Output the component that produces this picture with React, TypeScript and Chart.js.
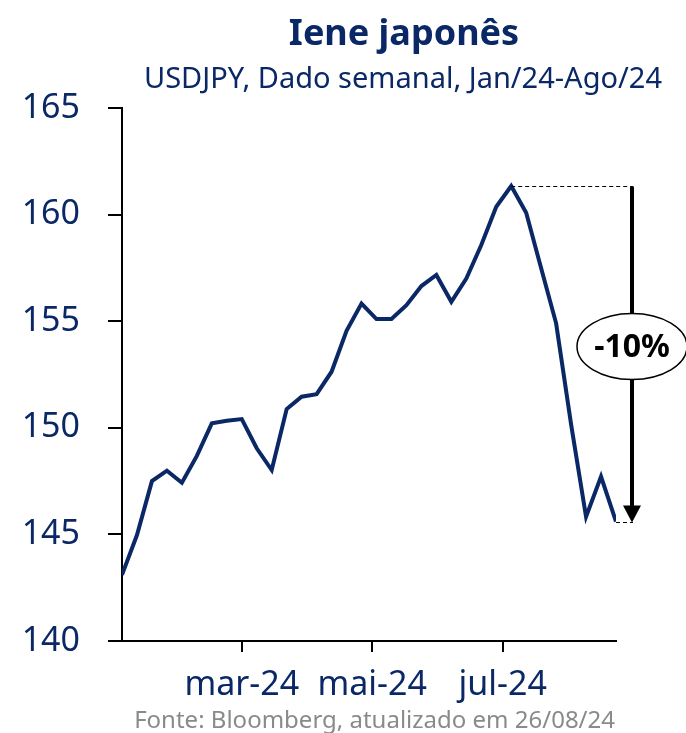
import React, { useEffect, useRef } from "react";
import { Chart, registerables } from "chart.js";

Chart.register(...registerables);

const TITLE = "Iene japonês";
const SUBTITLE = "USDJPY, Dado semanal, Jan/24-Ago/24";
const SOURCE = "Fonte: Bloomberg, atualizado em 26/08/24";

const weekDates = [
  "2024-01-05", "2024-01-12", "2024-01-19", "2024-01-26",
  "2024-02-02", "2024-02-09", "2024-02-16", "2024-02-23",
  "2024-03-01", "2024-03-08", "2024-03-15", "2024-03-22", "2024-03-29",
  "2024-04-05", "2024-04-12", "2024-04-19", "2024-04-26",
  "2024-05-03", "2024-05-10", "2024-05-17", "2024-05-24", "2024-05-31",
  "2024-06-07", "2024-06-14", "2024-06-21", "2024-06-28",
  "2024-07-05", "2024-07-12", "2024-07-19", "2024-07-26",
  "2024-08-02", "2024-08-09", "2024-08-16", "2024-08-23",
];

const usdjpy = [
  143.10, 144.97, 147.50, 147.99, 147.42, 148.68, 150.21, 150.33,
  150.41, 149.04, 148.02, 150.88, 151.46, 151.58, 152.63, 154.55,
  155.83, 155.10, 155.10, 155.75, 156.65, 157.17, 155.91, 157.00,
  158.57, 160.37, 161.34, 160.09, 157.48, 154.90, 150.16, 145.83,
  147.71, 145.60,
];

const xTickDates = ["2024-03-01", "2024-05-01", "2024-07-01"];
const xTickLabels = ["mar-24", "mai-24", "jul-24"];

const yMin = 140;
const yMax = 165;
const yStep = 5;

const NAVY = "#0a2866";
const FONT = "'Noto Sans', sans-serif";

const dayMs = 24 * 3600 * 1000;
const t0 = Date.parse(weekDates[0] + "T00:00:00Z");
const toDay = (d: string) => (Date.parse(d + "T00:00:00Z") - t0) / dayMs;

const annotationPlugin = {
  id: "annot",
  afterDatasetsDraw(chart: any) {
    const { ctx, chartArea, scales } = chart;
    const xs = scales.x;
    const ys = scales.y;
    let peakIdx = 0;
    usdjpy.forEach((v, i) => {
      if (v > usdjpy[peakIdx]) peakIdx = i;
    });
    const lastIdx = usdjpy.length - 1;
    const px = xs.getPixelForValue(toDay(weekDates[peakIdx]));
    const py = Math.round(ys.getPixelForValue(usdjpy[peakIdx])) + 0.5;
    const lx = xs.getPixelForValue(toDay(weekDates[lastIdx]));
    const ly = Math.round(ys.getPixelForValue(usdjpy[lastIdx])) + 0.5;
    const ax = chartArea.right + 16;

    ctx.save();
    // dashed guide lines
    ctx.strokeStyle = "#000";
    ctx.lineWidth = 1;
    ctx.setLineDash([4, 3]);
    ctx.beginPath();
    ctx.moveTo(px, py);
    ctx.lineTo(ax + 1, py);
    ctx.moveTo(lx, ly);
    ctx.lineTo(ax + 1, ly);
    ctx.stroke();
    ctx.setLineDash([]);

    // arrow
    const headH = 17;
    const headW = 18;
    ctx.lineWidth = 4;
    ctx.beginPath();
    ctx.moveTo(ax, py);
    ctx.lineTo(ax, ly - headH + 1);
    ctx.stroke();
    ctx.fillStyle = "#000";
    ctx.beginPath();
    ctx.moveTo(ax - headW / 2, ly - headH);
    ctx.lineTo(ax + headW / 2, ly - headH);
    ctx.lineTo(ax, ly);
    ctx.closePath();
    ctx.fill();

    // ellipse label
    const cy = (py + ly) / 2 - 8;
    ctx.beginPath();
    ctx.ellipse(ax, cy, 55, 33, 0, 0, Math.PI * 2);
    ctx.fillStyle = "#fff";
    ctx.fill();
    ctx.lineWidth = 1.5;
    ctx.strokeStyle = "#000";
    ctx.stroke();
    const pct = Math.round((usdjpy[lastIdx] / usdjpy[peakIdx] - 1) * 100);
    ctx.fillStyle = "#000";
    ctx.font = `bold 32px ${FONT}`;
    ctx.textAlign = "center";
    ctx.textBaseline = "middle";
    ctx.fillText(`${pct}%`, ax, cy + 1);
    ctx.restore();
  },
  afterDraw(chart: any) {
    const { ctx } = chart;
    ctx.save();
    ctx.textBaseline = "alphabetic";
    ctx.textAlign = "center";
    ctx.fillStyle = NAVY;
    ctx.font = `bold 36px ${FONT}`;
    ctx.fillText(TITLE, 404, 45);
    ctx.font = `29px ${FONT}`;
    ctx.fillText(SUBTITLE, 403, 88);
    ctx.textAlign = "right";
    ctx.fillStyle = "#8a8a8a";
    ctx.font = `24px ${FONT}`;
    ctx.fillText(SOURCE, 615, 728);
    ctx.restore();
  },
};

export default function App() {
  const ref = useRef<HTMLCanvasElement | null>(null);

  useEffect(() => {
    document.body.style.margin = "0";
    const canvas = ref.current;
    if (!canvas) return;
    const points = usdjpy.map((v, i) => ({ x: toDay(weekDates[i]), y: v }));
    const tickDays = xTickDates.map(toDay);
    const chart = new Chart(canvas, {
      type: "line",
      data: {
        datasets: [
          {
            data: points,
            borderColor: NAVY,
            borderWidth: 4,
            pointRadius: 0,
            tension: 0,
            fill: false,
            borderJoinStyle: "miter",
          },
        ],
      },
      options: {
        animation: false,
        responsive: false,
        maintainAspectRatio: false,
        devicePixelRatio: 1,
        layout: { padding: { top: 108, right: 70, left: 0, bottom: 0 } },
        plugins: {
          legend: { display: false },
          tooltip: { enabled: false },
          title: { display: false },
        },
        scales: {
          x: {
            type: "linear",
            min: 0,
            max: toDay(weekDates[weekDates.length - 1]),
            afterBuildTicks: (axis: any) => {
              axis.ticks = tickDays.map((v) => ({ value: v }));
            },
            afterFit: (axis: any) => {
              axis.height = 92;
            },
            border: { display: true, color: "#000", width: 2 },
            grid: {
              drawOnChartArea: false,
              drawTicks: true,
              tickLength: 11,
              color: "#000",
              lineWidth: 2,
            },
            ticks: {
              autoSkip: false,
              maxRotation: 0,
              minRotation: 0,
              padding: 13,
              color: NAVY,
              font: { family: FONT, size: 34 },
              callback: (v: any) => {
                const i = tickDays.indexOf(Number(v));
                return i >= 0 ? xTickLabels[i] : "";
              },
            },
          },
          y: {
            type: "linear",
            min: yMin,
            max: yMax,
            afterFit: (axis: any) => {
              axis.width = 122;
            },
            border: { display: true, color: "#000", width: 2 },
            grid: {
              drawOnChartArea: false,
              drawTicks: true,
              tickLength: 14,
              color: "#000",
              lineWidth: 2,
            },
            ticks: {
              stepSize: yStep,
              padding: 28,
              color: NAVY,
              font: { family: FONT, size: 34 },
            },
          },
        },
      },
      plugins: [annotationPlugin],
    } as any);
    return () => chart.destroy();
  }, []);

  return (
    <div style={{ width: 686, height: 733, overflow: "hidden" }}>
      <canvas ref={ref} width={686} height={733} style={{ display: "block" }} />
    </div>
  );
}
